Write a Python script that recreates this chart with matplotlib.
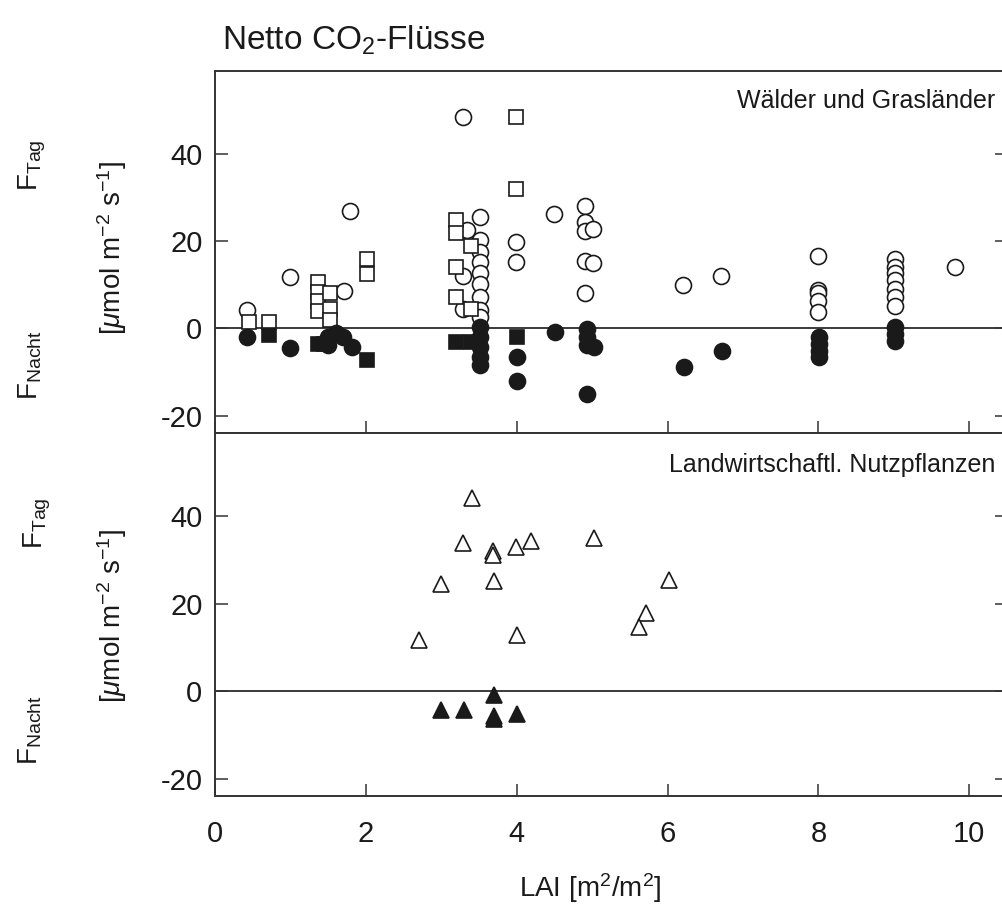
import matplotlib
matplotlib.use("Agg")
import matplotlib.pyplot as plt

plt.rcParams['font.family'] = ['Liberation Sans', 'DejaVu Sans']
plt.rcParams['mathtext.fontset'] = 'custom'
plt.rcParams['mathtext.rm'] = 'Liberation Sans'
plt.rcParams['mathtext.it'] = 'Liberation Sans:italic'
plt.rcParams['axes.unicode_minus'] = False

# ---- data: top panel (Wälder und Grasländer) ----
day_circle_x = [0.42, 0.99, 1.71, 1.79, 3.29, 3.34, 3.29, 3.29, 3.51, 3.51, 3.51, 3.51, 3.51,
                3.51, 3.51, 3.51, 3.51, 3.99, 3.99, 4.50, 4.91, 4.91, 4.91, 5.01, 4.91, 5.01,
                4.91, 6.21, 6.71, 8.0, 8.0, 8.0, 8.0, 8.0, 9.02, 9.02, 9.02, 9.02, 9.02, 9.02,
                9.02, 9.81]
day_circle_y = [4.3, 11.8, 8.6, 26.9, 48.4, 22.5, 12.0, 4.5, 25.6, 20.2, 17.5, 15.2, 12.6,
                10.1, 7.1, 4.3, 2.6, 19.8, 15.1, 26.1, 28.1, 24.4, 22.4, 22.7, 15.4, 14.9,
                8.0, 9.9, 12.0, 16.6, 8.7, 8.0, 6.3, 3.8, 16.0, 14.1, 12.6, 11.0, 9.1, 7.1,
                5.1, 14.1]

day_square_x = [0.45, 0.72, 1.37, 1.37, 1.37, 1.37, 1.53, 1.53, 1.53, 2.01, 2.01,
                3.20, 3.20, 3.20, 3.20, 3.40, 3.40, 3.99, 3.99]
day_square_y = [1.5, 1.5, 10.6, 8.3, 6.3, 4.0, 8.0, 4.5, 1.8, 15.8, 12.4,
                24.8, 21.8, 14.1, 7.2, 18.9, 4.5, 48.4, 32.0]

night_circle_x = [0.42, 1.0, 1.5, 1.5, 1.6, 1.7, 1.81, 3.51, 3.51, 3.51, 3.51, 3.51, 4.0, 4.0,
                  4.51, 4.93, 4.93, 4.93, 5.02, 4.93, 6.22, 6.72, 8.01, 8.01, 8.01, 8.01,
                  9.02, 9.02, 9.02]
night_circle_y = [-2.1, -4.4, -2.0, -3.9, -1.0, -2.0, -4.3, 0.3, -2.0, -4.3, -6.6, -8.5, -6.6, -12.0,
                  -0.8, -0.1, -2.0, -3.9, -4.3, -15.0, -8.9, -5.1, -2.0, -3.5, -5.1, -6.6,
                  0.3, -1.3, -2.9]

night_square_x = [0.72, 1.37, 1.45, 2.01, 3.2, 3.4, 4.0]
night_square_y = [-1.6, -3.5, -3.5, -7.2, -3.1, -3.1, -2.1]

# ---- data: bottom panel (Landwirtschaftl. Nutzpflanzen) ----
crop_day_x = [3.41, 3.29, 3.69, 3.69, 3.99, 4.19, 5.02, 3.0, 3.7, 6.02, 5.72, 5.62, 2.71, 4.01]
crop_day_y = [44.2, 33.9, 32.0, 31.2, 32.9, 34.3, 35.1, 24.4, 25.1, 25.3, 17.9, 14.7, 11.6, 12.8]

crop_night_x = [3.0, 3.3, 3.7, 3.7, 3.7, 4.01]
crop_night_y = [-4.3, -4.3, -1.0, -5.6, -6.5, -5.3]

x_ticks = [0, 2, 4, 6, 8, 10]
y_ticks = [-20, 0, 20, 40]

W, H = 1003, 907
fig = plt.figure(figsize=(W / 100, H / 100), dpi=100)
fig.patch.set_facecolor('white')

left = 215 / W
width = (1007 - 215) / W
ax1 = fig.add_axes([left, 1 - 433 / H, width, (433 - 71) / H])
ax2 = fig.add_axes([left, 1 - 796 / H, width, (796 - 433) / H])

ink = '#1a1a1a'
for ax in (ax1, ax2):
    ax.set_xlim(0, 10.5)
    ax.set_ylim(-24, 59)
    ax.axhline(0, color=ink, lw=1.2, zorder=1)
    for s in ax.spines.values():
        s.set_color('#333333')
        s.set_linewidth(1.4)
    ax.set_yticks(y_ticks)
    ax.set_xticks(x_ticks)
    ax.tick_params(axis='y', direction='in', length=9, width=1.1, color='#333333',
                   left=True, right=True, labelsize=21, pad=9, labelcolor=ink)
    ax.tick_params(axis='x', direction='in', length=9, width=1.1, color='#333333',
                   top=False, bottom=True, labelsize=21, pad=17, labelcolor=ink)

ax1.tick_params(axis='x', labelbottom=False)

ms_c, ms_s, ms_t = 11.5, 9.5, 12
mew = 1.2
ax1.plot(day_circle_x, day_circle_y, 'o', ms=ms_c, mfc='white', mec=ink, mew=mew, ls='none', zorder=3)
ax1.plot(day_square_x, day_square_y, 's', ms=ms_s, mfc='white', mec=ink, mew=mew, ls='none', zorder=3)
ax1.plot(night_circle_x, night_circle_y, 'o', ms=ms_c, mfc=ink, mec=ink, mew=mew, ls='none', zorder=3)
ax1.plot(night_square_x, night_square_y, 's', ms=ms_s, mfc=ink, mec=ink, mew=mew, ls='none', zorder=3)

ax2.plot(crop_day_x, crop_day_y, '^', ms=ms_t, mfc='white', mec=ink, mew=mew, ls='none', zorder=3)
ax2.plot(crop_night_x, crop_night_y, '^', ms=ms_t, mfc=ink, mec=ink, mew=mew, ls='none', zorder=3)


# pixel-based text placement helper (y from top)
def ftext(x, y, s, **kw):
    fig.text(x / W, 1 - y / H, s, color=ink, **kw)


ftext(995, 101, 'Wälder und Grasländer', fontsize=18, ha='right', va='center')
ftext(995, 465, 'Landwirtschaftl. Nutzpflanzen', fontsize=18, ha='right', va='center')

ftext(222, 40, r'Netto CO$_2$-Flüsse', fontsize=24, ha='left', va='center')
ftext(590, 888, r'LAI [m$^2$/m$^2$]', fontsize=20, ha='center', va='center')

ylab = r'[$\mathit{\mu}$mol m$^{-2}$ s$^{-1}$]'
ftext(112, 248, ylab, fontsize=20, rotation=90, ha='center', va='center')
ftext(112, 616, ylab, fontsize=20, rotation=90, ha='center', va='center')

ftext(32, 165, r'F$_{\mathrm{Tag}}$', fontsize=20, rotation=90, ha='center', va='center')
ftext(30, 365, r'F$_{\mathrm{Nacht}}$', fontsize=20, rotation=90, ha='center', va='center')
ftext(37, 523, r'F$_{\mathrm{Tag}}$', fontsize=20, rotation=90, ha='center', va='center')
ftext(30, 730, r'F$_{\mathrm{Nacht}}$', fontsize=20, rotation=90, ha='center', va='center')

fig.savefig('out.png', dpi=100, facecolor='white')
